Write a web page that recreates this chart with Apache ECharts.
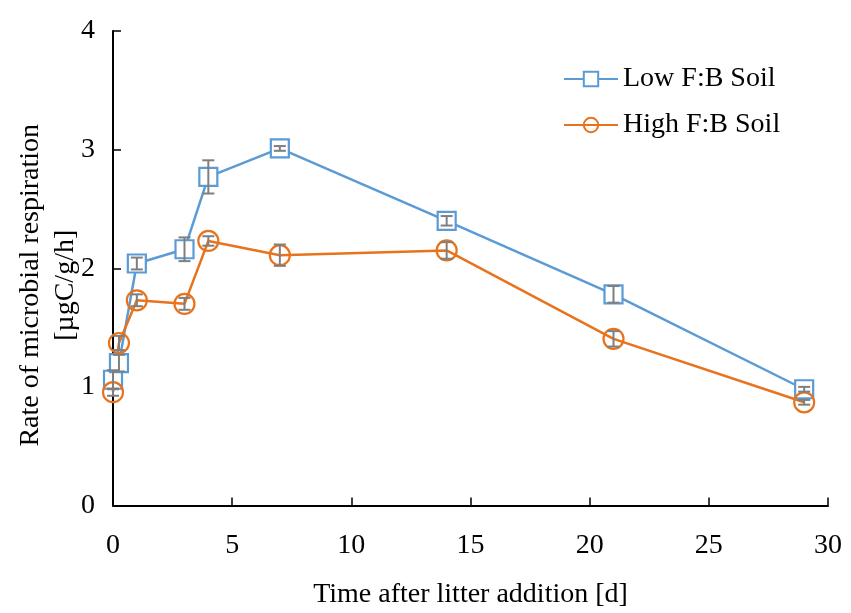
<!DOCTYPE html>
<html><head><meta charset="utf-8">
<script src="https://cdn.jsdelivr.net/npm/echarts@6/dist/echarts.min.js"></script>
<style>html,body{margin:0;padding:0;background:#fff}#c{width:851px;height:613px}</style>
</head><body><div id="c"></div>
<script>
const days = [0, 0.25, 1, 3, 4, 7, 14, 21, 29];
const lowFB = [1.06, 1.20, 2.04, 2.16, 2.77, 3.01, 2.40, 1.78, 0.98];
const lowErr = [0.08, 0.07, 0.05, 0.10, 0.14, 0.02, 0.04, 0.07, 0.02];
const highFB = [0.955, 1.37, 1.73, 1.70, 2.23, 2.11, 2.15, 1.405, 0.87];
const highErr = [0.03, 0.06, 0.05, 0.05, 0.04, 0.09, 0.07, 0.065, 0.02];
const xTicks = [0, 5, 10, 15, 20, 25, 30];
const yTicks = [0, 1, 2, 3, 4];

const FONT = "'Liberation Serif', 'Times New Roman', serif";
const BLUE = '#5B9BD5', ORANGE = '#E8731C', GRAY = '#7F7F7F';

function errData(vals, errs) { return days.map((d, i) => [d, vals[i] - errs[i], vals[i] + errs[i]]); }
function errSeries(vals, errs) {
  return {
    type: 'custom', z: 5, silent: true,
    data: errData(vals, errs),
    renderItem: function (params, api) {
      const x = api.value(0);
      const lo = api.coord([x, api.value(1)]);
      const hi = api.coord([x, api.value(2)]);
      const w = 6;
      const st = { stroke: GRAY, lineWidth: 2 };
      return { type: 'group', children: [
        { type: 'line', shape: { x1: lo[0], y1: lo[1], x2: hi[0], y2: hi[1] }, style: st },
        { type: 'line', shape: { x1: lo[0] - w, y1: lo[1], x2: lo[0] + w, y2: lo[1] }, style: st },
        { type: 'line', shape: { x1: hi[0] - w, y1: hi[1], x2: hi[0] + w, y2: hi[1] }, style: st }
      ]};
    }
  };
}

const chart = echarts.init(document.getElementById('c'), null, { renderer: 'canvas' });
chart.setOption({
  animation: false,
  backgroundColor: '#fff',
  grid: { left: 113, right: 23, top: 31, bottom: 107.5, containLabel: false, outerBoundsMode: 'none' },
  legend: {
    orient: 'vertical', left: 558, top: 60, itemWidth: 54, itemHeight: 18, itemGap: 18,
    textStyle: { fontFamily: FONT, fontSize: 28, color: '#000' },
    data: ['Low F:B Soil', 'High F:B Soil']
  },
  xAxis: {
    type: 'value', min: 0, max: 30, interval: 5,
    name: 'Time after litter addition [d]', nameLocation: 'middle', nameGap: 75,
    nameTextStyle: { fontFamily: FONT, fontSize: 28, color: '#000' },
    axisLine: { lineStyle: { color: '#000', width: 2 } },
    axisTick: { inside: true, length: 8, lineStyle: { color: '#000', width: 1.5 } },
    axisLabel: { fontFamily: FONT, fontSize: 28, color: '#000', margin: 26,
      customValues: xTicks },
    splitLine: { show: false }
  },
  yAxis: {
    type: 'value', min: 0, max: 4, interval: 1,
    name: 'Rate of microbial respiration\n[µgC/g/h]', nameLocation: 'middle', nameGap: 30, nameRotate: 90,
    nameMoveOverlap: false,
    nameTextStyle: { fontFamily: FONT, fontSize: 28, color: '#000', lineHeight: 35, padding: [0, 34, 0, 0] },
    axisLine: { show: true, lineStyle: { color: '#000', width: 2 } },
    axisTick: { show: true, inside: true, length: 8, lineStyle: { color: '#000', width: 1.5 } },
    axisLabel: { fontFamily: FONT, fontSize: 28, color: '#000', margin: 18, customValues: yTicks },
    splitLine: { show: false }
  },
  series: [
    { name: 'Low F:B Soil', type: 'line', z: 3, data: days.map((d, i) => [d, lowFB[i]]),
      symbol: 'rect', symbolSize: 18, showAllSymbol: true,
      lineStyle: { color: BLUE, width: 2.5 },
      itemStyle: { color: '#fff', borderColor: BLUE, borderWidth: 2.2, opacity: 1 } },
    { name: 'High F:B Soil', type: 'line', z: 3, data: days.map((d, i) => [d, highFB[i]]),
      symbol: 'circle', symbolSize: 20, showAllSymbol: true,
      lineStyle: { color: ORANGE, width: 2.5 },
      itemStyle: { color: 'rgba(255,255,255,0)', borderColor: ORANGE, borderWidth: 2.2 } },
    errSeries(lowFB, lowErr),
    errSeries(highFB, highErr)
  ]
});
</script></body></html>
